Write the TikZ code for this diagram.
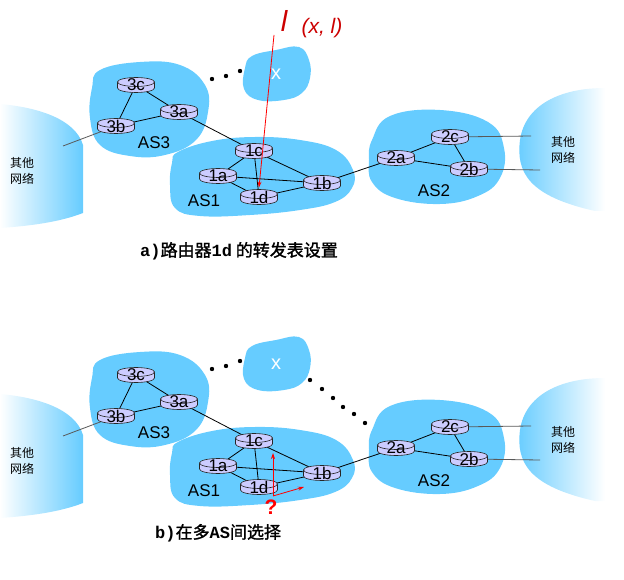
\documentclass[tikz,border=0pt]{standalone}
\usepackage{fontspec}
\setmainfont{Liberation Sans}
\newfontfamily\cjk{Noto Sans CJK SC}
\newfontfamily\cjkb[FakeBold=1.5]{Noto Sans CJK SC}
\newfontfamily\capmono{Liberation Mono}
\usetikzlibrary{arrows.meta,calc}
\pgfdeclarelayer{bg}
\pgfdeclarelayer{edges}
\pgfsetlayers{bg,edges,main}
\definecolor{asblue}{RGB}{102,204,255}
\definecolor{rlav}{RGB}{204,204,255}
\definecolor{redtxt}{RGB}{204,0,0}
\tikzset{
  router/.style={minimum width=41pt, minimum height=19pt, inner sep=0pt, outer sep=0pt,
    font=\fontsize{17}{17}\selectfont,
    path picture={
      \coordinate (pc) at (path picture bounding box.center);
      \filldraw[fill=rlav, draw=black!85, line width=0.6pt]
        ($(pc)+(-18.5,-3)$) -- ($(pc)+(-18.5,3)$)
        arc[start angle=180, end angle=360, x radius=18.5pt, y radius=4.5pt]
        -- ($(pc)+(18.5,-3)$) -- cycle;
      \filldraw[fill=rlav, draw=black!85, line width=0.6pt]
        ($(pc)+(0,-3)$) ellipse[x radius=18.5pt, y radius=4.5pt];
    }},
  link/.style={draw=black, line width=0.8pt},
  extlink/.style={draw=black!65, line width=0.8pt},
  aslabel/.style={font=\fontsize{17}{17}\selectfont, inner sep=0pt},
  othernet/.style={font=\cjk\fontsize{12}{16.5}\selectfont, align=center, inner sep=0pt},
  blob/.style={fill=asblue},
  dotmark/.style={fill=black},
  redarrow/.style={draw=red, line width=0.8pt, -{Stealth[length=6pt,width=4pt]}},
  caption/.style={font=\cjkb\fontsize{17}{17}\selectfont, anchor=west, inner sep=0pt}
}
\newcommand\drawpanel[2]{%
\begin{scope}[shift={(0,#2)}]
  \begin{pgfonlayer}{bg}
    \shade[left color=white, right color=asblue]
      (0,104) .. controls (35,107) and (75,118) .. (83,145)
      -- (83,213) .. controls (60,222) and (30,226) .. (0,228) -- cycle;
    \shade[left color=asblue, right color=white]
      (605,88) .. controls (560,88) and (525,105) .. (520,140)
      .. controls (516,172) and (528,196) .. (595,211) -- (605,211) -- cycle;
    \fill[blob] plot[smooth cycle, tension=0.7] coordinates {(100,70) (140,62) (180,65) (205,85) (208,112) (196,140) (165,155) (130,156) (100,145) (90,118) (92,88)};
    \fill[blob] plot[smooth cycle, tension=0.7] coordinates {(252,56) (276,50) (299,47) (309,60) (310,78) (302,93) (284,100) (258,100) (244,89) (245,68)};
    \fill[blob] plot[smooth cycle, tension=0.7] coordinates {(178,152) (212,141) (255,137) (300,140) (336,150) (353,170) (352,188) (335,202) (300,210) (250,215) (200,216) (175,208) (170,185) (172,163)};
    \fill[blob] plot[smooth cycle, tension=0.7] coordinates {(372,140) (390,116) (440,110) (488,122) (504,148) (500,178) (478,196) (440,204) (395,198) (372,182) (369,160)};
  \end{pgfonlayer}
  \node[router] (#1-3c) at (136,85) {3c};
  \node[router] (#1-3a) at (179,112) {3a};
  \node[router] (#1-3b) at (116,126) {3b};
  \node[router] (#1-1c) at (254,151) {1c};
  \node[router] (#1-1a) at (218,176) {1a};
  \node[router] (#1-1b) at (322,183) {1b};
  \node[router] (#1-1d) at (259,197) {1d};
  \node[router] (#1-2c) at (450,137) {2c};
  \node[router] (#1-2a) at (396,158) {2a};
  \node[router] (#1-2b) at (469,169) {2b};
  \node[aslabel] (#1-as3) at (154,143) {AS3};
  \node[aslabel] (#1-as1) at (204,201) {AS1};
  \node[aslabel] (#1-as2) at (434,191) {AS2};
  \node[font=\fontsize{20}{20}\selectfont, text=white, inner sep=0pt] (#1-x) at (276,74) {x};
  \node[othernet] (#1-onl) at (22,171) {其他\\网络};
  \node[othernet] (#1-onr) at (563,150) {其他\\网络};
  \coordinate (#1-el) at (63,146);
  \coordinate (#1-er1) at (531,136);
  \coordinate (#1-er2) at (540,170);
  \begin{pgfonlayer}{edges}
    \draw[link] (#1-3c.center) -- (#1-3a.center);
    \draw[link] (#1-3c.center) -- (#1-3b.center);
    \draw[link] (#1-3b.center) -- (#1-3a.center);
    \draw[link] (#1-3a.center) -- (#1-1c.center);
    \draw[link] (#1-1c.center) -- (#1-1a.center);
    \draw[link] (#1-1c.center) -- (#1-1b.center);
    \draw[link] (#1-1c.center) -- (#1-1d.center);
    \draw[link] (#1-1a.center) -- (#1-1b.center);
    \draw[link] (#1-1a.center) -- (#1-1d.center);
    \draw[link] (#1-1d.center) -- (#1-1b.center);
    \draw[link] (#1-1b.center) -- (#1-2a.center);
    \draw[link] (#1-2a.center) -- (#1-2c.center);
    \draw[link] (#1-2a.center) -- (#1-2b.center);
    \draw[link] (#1-2c.center) -- (#1-2b.center);
    \draw[extlink] (#1-3b.center) -- (#1-el);
    \draw[extlink] (#1-2c.center) -- (#1-er1);
    \draw[extlink] (#1-2b.center) -- (#1-er2);
  \end{pgfonlayer}
  \foreach \p in {(212,79),(226,76),(240,71)} \fill[dotmark] \p circle[radius=2.2pt];
\end{scope}}
\begin{document}
\begin{tikzpicture}[x=1pt, y=-1pt]
\useasboundingbox (0,0) rectangle (624,580);
\drawpanel{a}{0}
\drawpanel{b}{290}
% panel a extras
\coordinate (lsrc) at (274,35);
\draw[redarrow] (lsrc) -- (a-1d.north);
\node[text=redtxt, font=\itshape\fontsize{29}{29}\selectfont, inner sep=0pt] (lbig) at (284,21) {l};
\node[text=redtxt, font=\itshape\fontsize{21}{21}\selectfont, inner sep=0pt] (lxl) at (322,28) {(x, l)};
\node[caption] (capa) at (140,251) {{\capmono\bfseries a)}路由器{\capmono\bfseries 1d} 的转发表设置};
% panel b extras
\foreach \p in {(310,380),(322,389),(333,398),(343,407),(354,414),(365,423)} \fill[dotmark] \p circle[radius=2.2pt];
\coordinate (q0) at (273,496);
\coordinate (qup) at (273,453);
\coordinate (qright) at (304,487);
\draw[redarrow] (q0) -- (qup);
\draw[redarrow] (q0) -- (qright);
\node[text=red, font=\bfseries\fontsize{21}{21}\selectfont, inner sep=0pt] (qmark) at (271,507) {?};
\node[caption] (capb) at (155,533) {{\capmono\bfseries b)}在多{\capmono\bfseries AS}间选择};
\end{tikzpicture}
\end{document}
